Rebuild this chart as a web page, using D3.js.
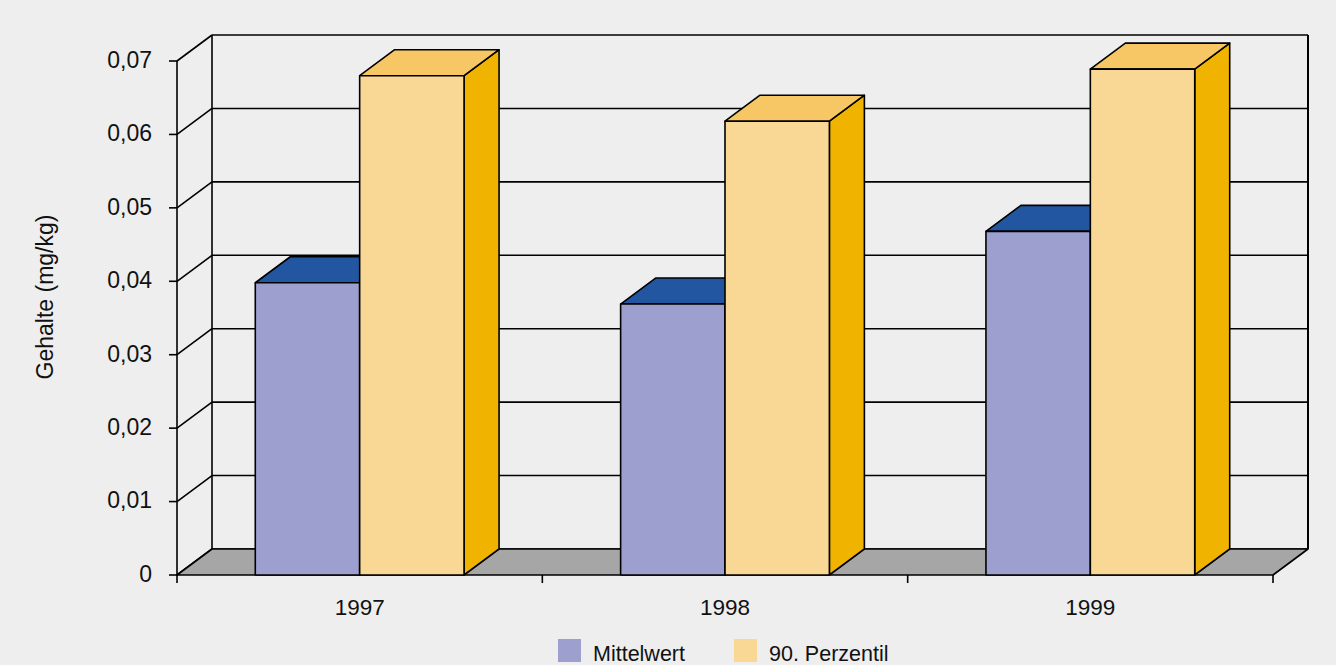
<!DOCTYPE html>
<html>
<head>
<meta charset="utf-8">
<script src="https://cdn.jsdelivr.net/npm/d3@7"></script>
<style>
  html, body { margin: 0; padding: 0; background: #eeeeee; }
  svg { display: block; font-family: "Liberation Sans", Arial, sans-serif; }
</style>
</head>
<body>
<div id="chart"></div>
<script>
// 3d bar chart - Gehalte 1997-1999

const categories = ["1997", "1998", "1999"];
const seriesNames = ["Mittelwert", "90. Perzentil"];
const mittelwert = [0.0398, 0.0369, 0.0468];
const perzentil = [0.0680, 0.0618, 0.0689];
const yTicks = [0, 0.01, 0.02, 0.03, 0.04, 0.05, 0.06, 0.07];

const colors = {
  "Mittelwert": { front: "#9da0ce", top: "#2356a0", side: "#1d4a8c" },
  "90. Perzentil": { front: "#f9d794", top: "#f6c764", side: "#f0b300" }
};

const de = d3.formatLocale({ decimal: ",", thousands: ".", grouping: [3], currency: ["", " €"] });
const fmt = v => v === 0 ? "0" : de.format(".2f")(v);

function createChart(elementId) {
  const W = 1336, H = 665;
  const left = 177, right = 1273, bottom = 575, top = 61;
  const depth = { dx: 35, dy: -26 };

  const svg = d3.select(`#${elementId}`)
    .append("svg")
    .attr("width", W)
    .attr("height", H);

  svg.append("rect").attr("width", W).attr("height", H).attr("fill", "#eeeeee");

  const x0 = d3.scaleBand().domain(categories).range([left, right]).padding(0);
  // excel style: gap width 150% of a bar
  const barW = x0.bandwidth() / 3.5;
  const x1 = d3.scaleBand().domain(seriesNames)
    .range([barW * 0.75, barW * 2.75]).padding(0);
  const y = d3.scaleLinear().domain([0, 0.07]).range([bottom, top]);

  const rows = categories.map((c, i) => ({
    category: c,
    values: [
      { series: "Mittelwert", value: mittelwert[i] },
      { series: "90. Perzentil", value: perzentil[i] }
    ]
  }));

  const lineStyle = sel => sel.attr("stroke", "#000").attr("stroke-width", 1.6).attr("fill", "none");

  // back wall gridlines
  svg.append("g").selectAll("line.grid")
    .data(yTicks)
    .enter()
    .append("line")
    .attr("x1", left + depth.dx)
    .attr("x2", right + depth.dx)
    .attr("y1", d => y(d) + depth.dy)
    .attr("y2", d => y(d) + depth.dy)
    .call(lineStyle);

  // side wall diagonals
  svg.append("g").selectAll("line.diag")
    .data(yTicks)
    .enter()
    .append("line")
    .attr("x1", left)
    .attr("y1", d => y(d))
    .attr("x2", left + depth.dx)
    .attr("y2", d => y(d) + depth.dy)
    .call(lineStyle);

  // wall verticals
  svg.append("line")
    .attr("x1", left + depth.dx).attr("x2", left + depth.dx)
    .attr("y1", y(0.07) + depth.dy).attr("y2", y(0) + depth.dy)
    .call(lineStyle);
  svg.append("line")
    .attr("x1", right + depth.dx).attr("x2", right + depth.dx)
    .attr("y1", y(0.07) + depth.dy).attr("y2", y(0) + depth.dy)
    .call(lineStyle)
    .attr("stroke-width", 2);
  svg.append("line")
    .attr("x1", left).attr("x2", left)
    .attr("y1", y(0.07)).attr("y2", y(0))
    .call(lineStyle);

  // floor
  svg.append("polygon")
    .attr("points", [
      [left, y(0)], [left + depth.dx, y(0) + depth.dy],
      [right + depth.dx, y(0) + depth.dy], [right, y(0)]
    ].map(p => p.join(",")).join(" "))
    .attr("fill", "#a6a6a6")
    .attr("stroke", "#000")
    .attr("stroke-width", 1.6)
    .attr("stroke-linejoin", "round");

  // y ticks + labels
  svg.append("g").selectAll("line.ytick")
    .data(yTicks)
    .enter()
    .append("line")
    .attr("x1", left - 8).attr("x2", left)
    .attr("y1", d => y(d)).attr("y2", d => y(d))
    .call(lineStyle);

  svg.append("g").selectAll("text")
    .data(yTicks)
    .enter()
    .append("text")
    .attr("x", left - 25)
    .attr("y", d => y(d))
    .attr("dy", "0.3em")
    .attr("text-anchor", "end")
    .style("font-size", "23px")
    .attr("fill", "#111")
    .text(fmt);

  // x ticks at band edges
  const edges = categories.map(c => x0(c)).concat([right]);
  svg.append("g").selectAll("line")
    .data(edges)
    .enter()
    .append("line")
    .attr("x1", d => d).attr("x2", d => d)
    .attr("y1", y(0)).attr("y2", y(0) + 8)
    .call(lineStyle);

  svg.append("g").selectAll("text")
    .data(categories)
    .enter()
    .append("text")
    .attr("x", d => x0(d) + x0.bandwidth() / 2)
    .attr("y", y(0) + 40)
    .attr("text-anchor", "middle")
    .style("font-size", "22.5px")
    .attr("fill", "#111")
    .text(d => d);

  // bars: front, top, side
  const bars = svg.append("g").selectAll("g.cat")
    .data(rows)
    .enter()
    .append("g")
    .selectAll("g.bar")
    .data(d => d.values.map(v => ({ ...v, category: d.category })))
    .enter()
    .append("g");

  const faceStyle = sel => sel.attr("stroke", "#000").attr("stroke-width", 1.6).attr("stroke-linejoin", "round");

  bars.each(function(d) {
    const g = d3.select(this);
    const bx = x0(d.category) + x1(d.series);
    const bw = x1.bandwidth();
    const yt = y(d.value), yb = y(0);
    const c = colors[d.series];
    const pts = arr => arr.map(p => p.join(",")).join(" ");

    g.append("polygon")
      .attr("points", pts([[bx + bw, yb], [bx + bw + depth.dx, yb + depth.dy],
        [bx + bw + depth.dx, yt + depth.dy], [bx + bw, yt]]))
      .attr("fill", c.side).call(faceStyle);
    g.append("polygon")
      .attr("points", pts([[bx, yt], [bx + depth.dx, yt + depth.dy],
        [bx + bw + depth.dx, yt + depth.dy], [bx + bw, yt]]))
      .attr("fill", c.top).call(faceStyle);
    g.append("rect")
      .attr("x", bx).attr("y", yt)
      .attr("width", bw).attr("height", yb - yt)
      .attr("fill", c.front).call(faceStyle);
  });

  // axis title
  svg.append("text")
    .attr("transform", "translate(53, 297) rotate(-90)")
    .attr("text-anchor", "middle")
    .style("font-size", "23px")
    .attr("fill", "#111")
    .text("Gehalte (mg/kg)");

  // legend
  const legendX = [558, 734];
  const legend = svg.append("g").selectAll("g")
    .data(seriesNames)
    .enter()
    .append("g")
    .attr("transform", (d, i) => `translate(${legendX[i]}, 639)`);

  legend.append("rect")
    .attr("width", 23).attr("height", 23)
    .attr("fill", d => colors[d].front);

  legend.append("text")
    .attr("x", 35).attr("y", 22)
    .style("font-size", "21.5px")
    .attr("fill", "#111")
    .text(d => d);
}

createChart("chart");
</script>
</body>
</html>
